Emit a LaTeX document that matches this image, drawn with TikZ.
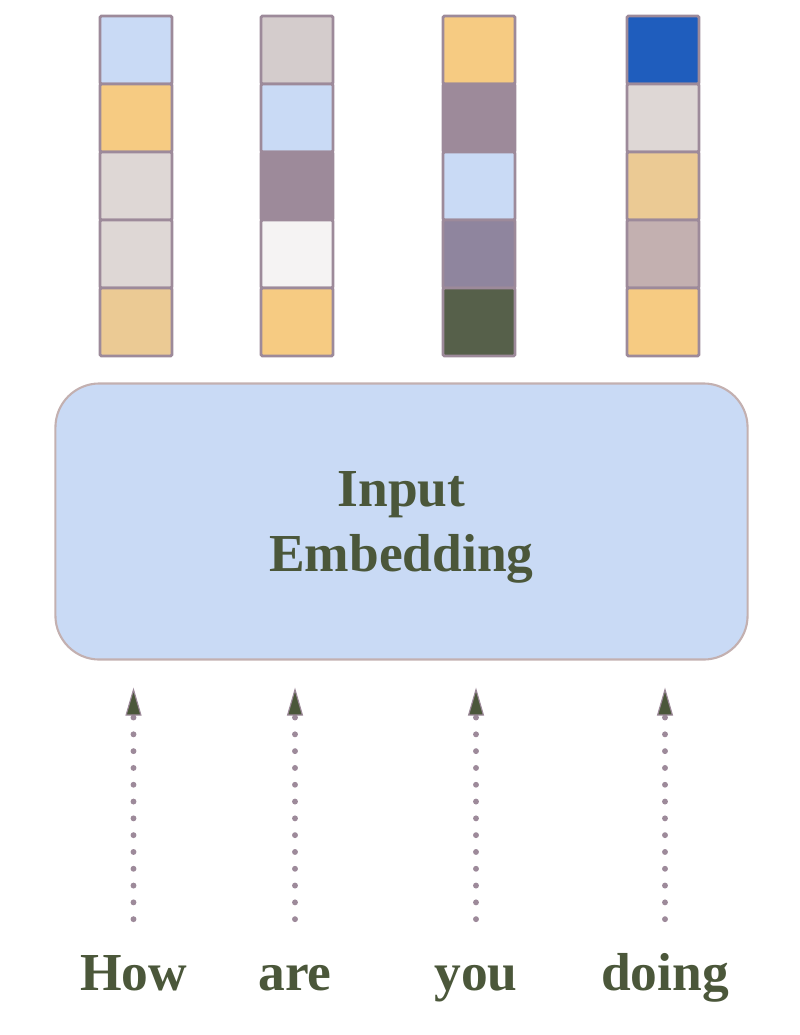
\documentclass[tikz,border=0pt]{standalone}
\usepackage{fontspec}
\setmainfont{Liberation Serif}
\usepackage{xcolor}
\usetikzlibrary{arrows.meta}

\definecolor{vecblue}{HTML}{C9DAF5}
\definecolor{vecyellow}{HTML}{F6CB82}
\definecolor{vectan}{HTML}{EBCA94}
\definecolor{vecgrey}{HTML}{DED7D5}
\definecolor{vecsilver}{HTML}{D4CCCC}
\definecolor{vecmauve}{HTML}{9D8A9A}
\definecolor{vecplum}{HTML}{8F859E}
\definecolor{vecwhite}{HTML}{F5F3F3}
\definecolor{vecgreen}{HTML}{56604A}
\definecolor{vecdark}{HTML}{1F5DBD}
\definecolor{vecrose}{HTML}{C3B0B0}
\definecolor{wordgreen}{HTML}{4B573A}

\begin{document}
\begin{tikzpicture}[
    x=0.025cm, y=-0.025cm,
    cell/.style={draw=vecmauve, line width=2pt, rounded corners=1pt, minimum width=1.8cm, minimum height=1.7cm, inner sep=0pt},
    embbox/.style={draw=vecrose, line width=1.5pt, fill=vecblue, rounded corners=1.1cm, minimum width=17.3cm, minimum height=6.9cm, align=center, text=wordgreen, font=\fontsize{38}{46}\selectfont\bfseries},
    word/.style={anchor=base, text=wordgreen, text height=0.7em, text depth=0.25em, font=\fontsize{38}{46}\selectfont\bfseries},
    arrow/.style={vecmauve, line width=4.2pt, line cap=round, dash pattern=on 0pt off 0.42cm, shorten <=1.4cm, shorten >=0.675cm, -{Triangle[width=0.4cm, length=0.7cm, line width=0.8pt, fill=wordgreen]}}
]
\useasboundingbox (0,0) rectangle (800,1035);

% embedding vectors
\foreach \cx/\a/\b/\c/\d/\e [count=\n] in {
    136/vecblue/vecyellow/vecgrey/vecgrey/vectan,
    297/vecsilver/vecblue/vecmauve/vecwhite/vecyellow,
    479/vecyellow/vecmauve/vecblue/vecplum/vecgreen,
    663/vecdark/vecgrey/vectan/vecrose/vecyellow}
  \foreach \fc [count=\r] in {\a,\b,\c,\d,\e}
    \node[cell, fill=\fc] (c\n-\r) at (\cx, {16+68*(\r-0.5)}) {};

\node[embbox] (emb) at (401.5,521.5) {\rule{0pt}{33pt}Input\\[0pt]Embedding};

% input words
\node[word] (how) at (133.5,990) {How};
\node[word] (are) at (295,990) {are};
\node[word] (you) at (476,990) {you};
\node[word] (doing) at (665,990) {doing};

% dotted arrows up into the box
\draw[arrow] (how.north) -- (how.north |- emb.south);
\draw[arrow] (are.north) -- (are.north |- emb.south);
\draw[arrow] (you.north) -- (you.north |- emb.south);
\draw[arrow] (doing.north) -- (doing.north |- emb.south);

\end{tikzpicture}
\end{document}
